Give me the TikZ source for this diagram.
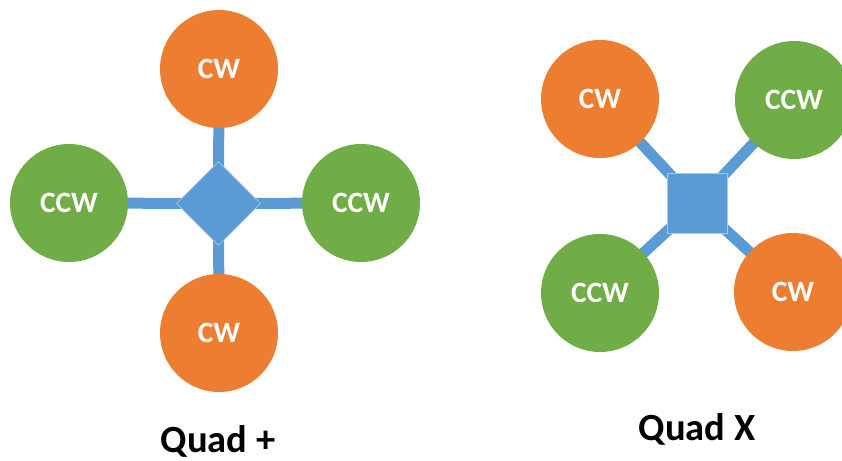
\documentclass[tikz,border=0pt]{standalone}
\usepackage{fontspec}
\setmainfont{Carlito}
\usetikzlibrary{shapes.geometric,backgrounds}
\definecolor{rotorOrange}{HTML}{ED7D31}
\definecolor{rotorGreen}{HTML}{70AD47}
\definecolor{frameBlue}{HTML}{5B9BD5}
\definecolor{frameEdge}{HTML}{A9C8E8}
\tikzset{
  rotor/.style={circle, minimum size=118pt, inner sep=0pt, text=white,
    font=\fontsize{29.5}{29.5}\selectfont\bfseries},
  cwrotor/.style={rotor, fill=rotorOrange},
  ccwrotor/.style={rotor, fill=rotorGreen},
  hub/.style={fill=frameBlue, draw=frameEdge, line width=0.8pt, inner sep=0pt},
  arm/.style={draw=frameBlue, line width=11pt},
  caption/.style={anchor=base, font=\fontsize{38.5}{38.5}\selectfont\bfseries}
}
\begin{document}
\begin{tikzpicture}[x=1pt, y=-1pt]
  \useasboundingbox (0,0) rectangle (842,460);
  \clip (0,0) rectangle (842,460);

  % Quad + layout
  \node[hub, diamond, minimum width=84pt, minimum height=84pt] (phub) at (218.5,203.5) {};
  \node[cwrotor]  (ptop)    at (219,69)  {CW};
  \node[ccwrotor] (pleft)   at (69,203)  {CCW};
  \node[ccwrotor] (pright)  at (361,203) {CCW};
  \node[cwrotor]  (pbottom) at (219,333) {CW};
  \node[caption]  (pcap)    at (218,452) {Quad +};

  % Quad X layout
  \node[hub, rectangle, minimum size=60pt] (xhub) at (697,203.5) {};
  \node[cwrotor]  (xtl) at (600,99)  {CW};
  \node[ccwrotor] (xtr) at (794,100) {CCW};
  \node[ccwrotor] (xbl) at (600,293) {CCW};
  \node[cwrotor]  (xbr) at (793,292) {CW};
  \node[caption]  (xcap) at (697,440) {Quad X};

  % frame arms behind rotors and hubs
  \begin{pgfonlayer}{background}
    \draw[arm] (phub.center) -- (ptop.center);
    \draw[arm] (phub.center) -- (pbottom.center);
    \draw[arm] (phub.center) -- (pleft.center);
    \draw[arm] (phub.center) -- (pright.center);
    \draw[arm] (xhub.center) -- (xtl.center);
    \draw[arm] (xhub.center) -- (xtr.center);
    \draw[arm] (xhub.center) -- (xbl.center);
    \draw[arm] (xhub.center) -- (xbr.center);
  \end{pgfonlayer}
\end{tikzpicture}
\end{document}
